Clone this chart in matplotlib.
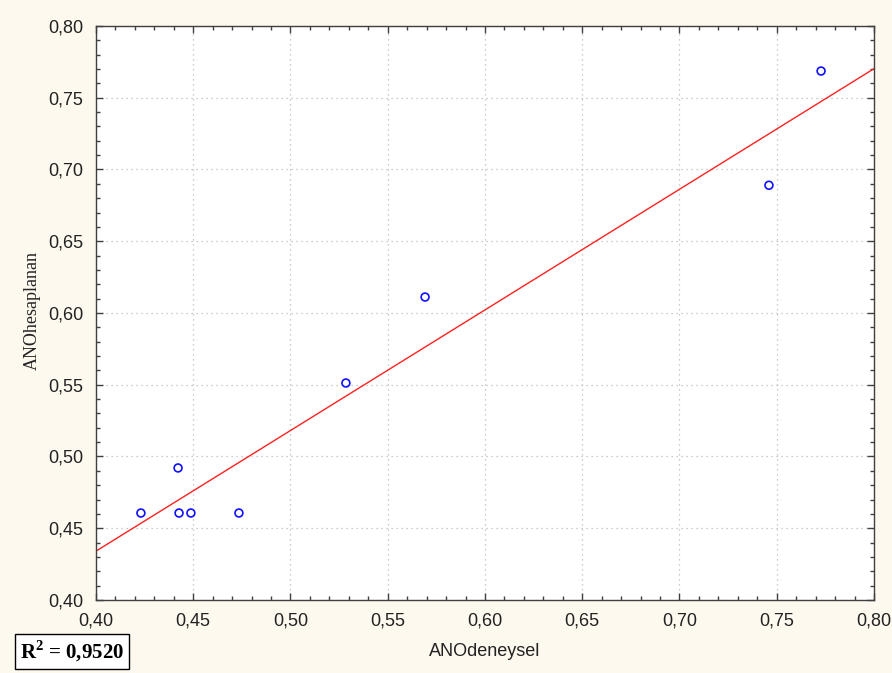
import numpy as np
import matplotlib
matplotlib.use("Agg")
import matplotlib.pyplot as plt
from matplotlib.ticker import MultipleLocator, FuncFormatter

x_vals = [0.4231, 0.4422, 0.4427, 0.4488, 0.4735, 0.5285, 0.5692, 0.7460, 0.7728]
y_vals = [0.4606, 0.4920, 0.4606, 0.4606, 0.4606, 0.5512, 0.6111, 0.6890, 0.7686]
r2_text = "0,9520"

plt.rcParams["mathtext.fontset"] = "custom"
plt.rcParams["mathtext.rm"] = "Liberation Serif"
plt.rcParams["mathtext.bf"] = "Liberation Serif:bold"

bg = "#FEF9EF"
fig = plt.figure(figsize=(8.92, 6.73), dpi=100, facecolor=bg)
ax = fig.add_axes([0.1076, 0.1085, 0.9798 - 0.1076, 0.9614 - 0.1085])
ax.set_facecolor("white")

x = np.array(x_vals)
y = np.array(y_vals)
slope, intercept = np.polyfit(x, y, 1)
xl = np.array([0.40, 0.80])
ax.plot(xl, slope * xl + intercept, color="#FF2020", lw=1.0, zorder=2)
ax.scatter(x, y, s=32, facecolors="none", edgecolors="#1010FF", linewidths=1.2, zorder=3)

ax.set_xlim(0.40, 0.80)
ax.set_ylim(0.40, 0.80)
ax.xaxis.set_major_locator(MultipleLocator(0.05))
ax.yaxis.set_major_locator(MultipleLocator(0.05))
ax.xaxis.set_minor_locator(MultipleLocator(0.01))
ax.yaxis.set_minor_locator(MultipleLocator(0.01))
fmt = FuncFormatter(lambda v, p: f"{v:.2f}".replace(".", ","))
ax.xaxis.set_major_formatter(fmt)
ax.yaxis.set_major_formatter(fmt)
ax.tick_params(which="both", direction="in", top=True, right=True, color="#404040")
ax.tick_params(which="major", length=5, width=1, labelsize=13)
ax.tick_params(axis="x", which="major", pad=9)
ax.tick_params(axis="y", which="major", pad=9)
ax.tick_params(which="minor", length=3, width=1)
for lab in ax.get_xticklabels() + ax.get_yticklabels():
    lab.set_fontfamily("Liberation Sans")
    lab.set_color("#222222")
ax.grid(True, which="major", linestyle=(0, (1, 3)), color="#BBBBBB", lw=0.9)
for s in ax.spines.values():
    s.set_color("#404040")
    s.set_linewidth(1.0)

ax.set_xlabel("ANOdeneysel", fontsize=13, family="Liberation Sans", color="#222222", labelpad=10)
ax.set_ylabel("ANOhesaplanan", fontsize=13, family="Liberation Serif", color="#222222")
ax.yaxis.set_label_coords(-0.071, 0.505)

fig.text(0.0225, 0.0215, r"R$^{\mathbf{2}}$ = " + r2_text, fontsize=15, fontweight="bold",
         family="Liberation Serif", ha="left", va="baseline",
         bbox=dict(boxstyle="square,pad=0.25", facecolor="white", edgecolor="black", lw=1.0))

fig.savefig("out.png", dpi=100, facecolor=bg)
